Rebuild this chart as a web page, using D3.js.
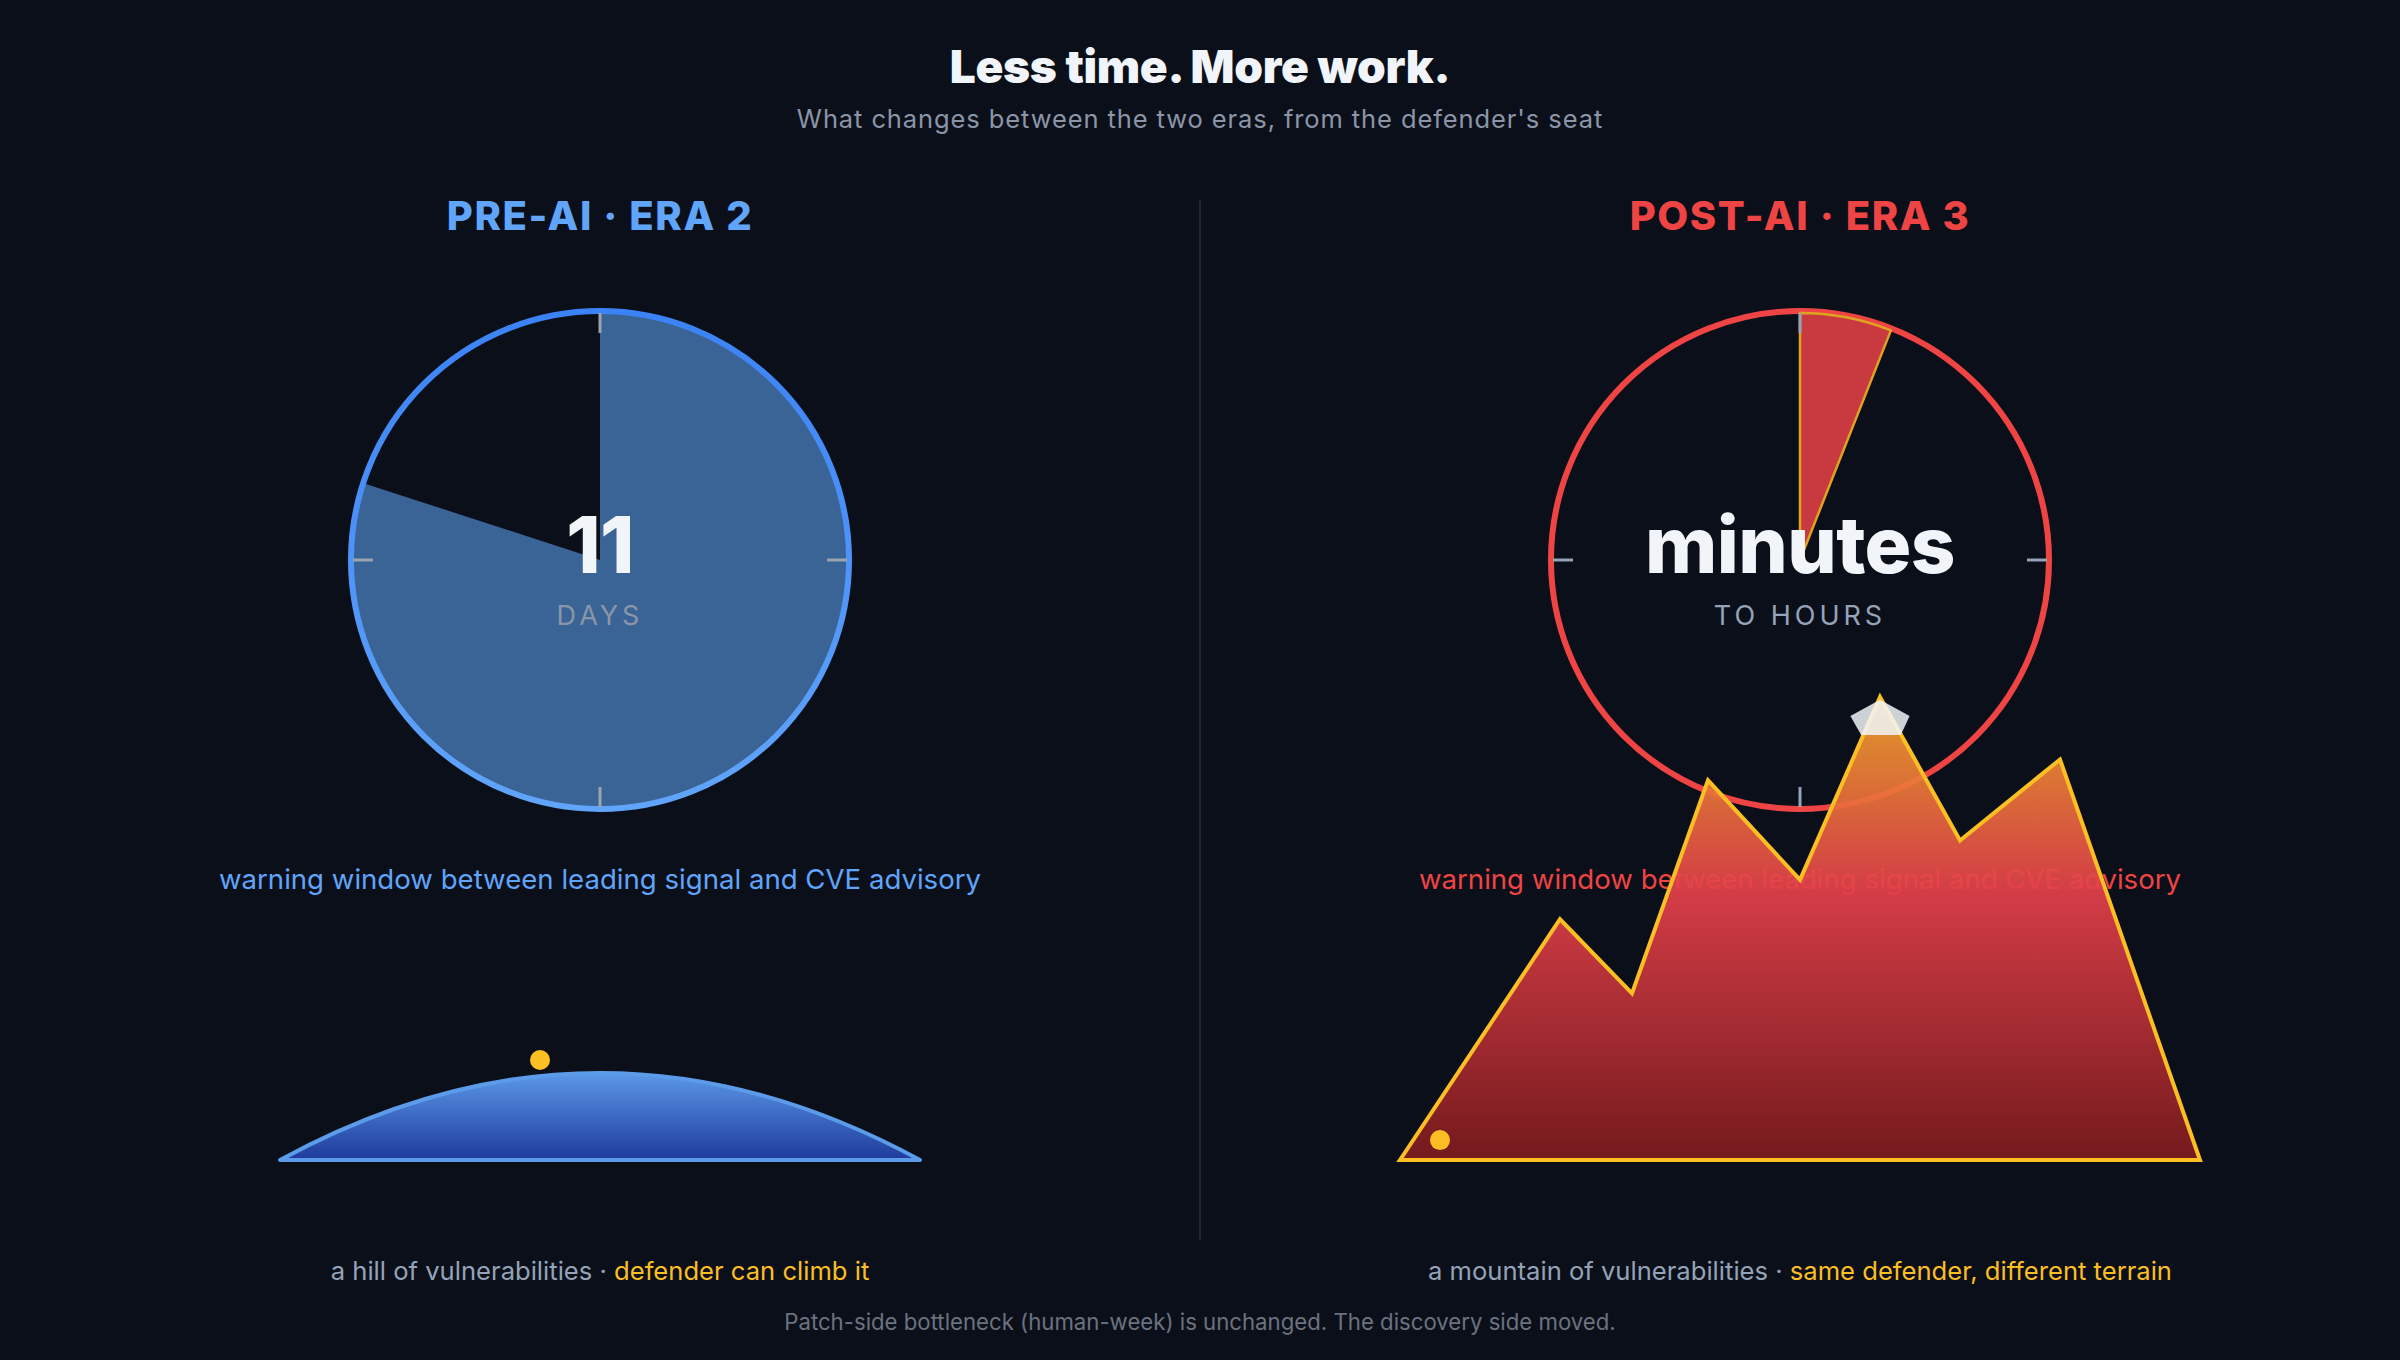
<!DOCTYPE html>
<html>
<head>
<meta charset="utf-8">
<script src="https://cdn.jsdelivr.net/npm/d3@7"></script>
<style>
  html, body { margin: 0; padding: 0; background: #0b0f19; }
  svg { display: block; font-family: Inter, "Noto Sans", sans-serif; }
</style>
</head>
<body>
<div id="chart"></div>
<script>
// two eras, left then right
const eras = ["PRE-AI · ERA 2", "POST-AI · ERA 3"];
const eraColors = ["#60a5fa", "#ef4444"];
const windowFraction = [0.8, 0.06];          // share of the clock face
const bigValue = ["11", "minutes"];
const unitLabel = ["DAYS", "TO HOURS"];
const windowLabel = "warning window between leading signal and CVE advisory";
const terrainLabel = ["a hill of vulnerabilities", "a mountain of vulnerabilities"];
const terrainNote = ["defender can climb it", "same defender, different terrain"];

// terrain profiles: [x, height]
const hillProfile = [[-80, 0], [0, 18.8], [80, 0]];
const mountainProfile = [[-100, 0], [-60, 52], [-42, 36], [-23, 82], [0, 60.5],
  [20, 100], [40, 69], [65, 86.5], [100, 0]];
const snowCap = [[12.6, 95.9], [20, 99.4], [27.4, 95.9], [25.2, 91.8], [15.3, 91.8]];
const climber = [[-15, 21.6], [-90, 4.3]];

const W = 2400, H = 1360;
const svg = d3.select("#chart").append("svg")
  .attr("width", W)
  .attr("height", H);

const defs = svg.append("defs");

const g1 = defs.append("linearGradient").attr("id", "hillFill")
  .attr("x1", 0).attr("y1", 0).attr("x2", 0).attr("y2", 1);
g1.append("stop").attr("offset", 0).attr("stop-color", "#5b98e8");
g1.append("stop").attr("offset", 1).attr("stop-color", "#1e3a9c");

const g2 = defs.append("linearGradient").attr("id", "mtnFill")
  .attr("x1", 0).attr("y1", 0).attr("x2", 0).attr("y2", 1);
g2.append("stop").attr("offset", 0).attr("stop-color", "#f0a52a");
g2.append("stop").attr("offset", 0.42).attr("stop-color", "#e3404a");
g2.append("stop").attr("offset", 1).attr("stop-color", "#7c1b1d");

const g3 = defs.append("linearGradient").attr("id", "blueRing")
  .attr("x1", 0).attr("y1", 0).attr("x2", 0).attr("y2", 1);
g3.append("stop").attr("offset", 0).attr("stop-color", "#3b82f6");
g3.append("stop").attr("offset", 1).attr("stop-color", "#60a5fa");

svg.append("rect").attr("width", W).attr("height", H).attr("fill", "#0b0f19");

// header
svg.append("text")
  .attr("x", W / 2).attr("y", 83)
  .attr("text-anchor", "middle")
  .attr("fill", "#f1f5f9")
  .attr("font-size", 46)
  .attr("font-weight", 900)
  .attr("letter-spacing", -0.3)
  .text("Less time. More work.");

svg.append("text")
  .attr("x", W / 2).attr("y", 128)
  .attr("text-anchor", "middle")
  .attr("fill", "#8b95a7")
  .attr("font-size", 25.5)
  .attr("letter-spacing", 0.9)
  .text("What changes between the two eras, from the defender's seat");

svg.append("line")
  .attr("x1", W / 2).attr("x2", W / 2)
  .attr("y1", 200).attr("y2", 1240)
  .attr("stroke", "#1e2636")
  .attr("stroke-width", 2);

// panels
const panelX = d3.scaleBand().domain([0, 1]).range([0, W]);
const R = 249;
const terrainY = d3.scaleLinear().domain([0, 100]).range([1160, 697]);

eras.forEach((era, i) => {
  const cx = panelX(i) + panelX.bandwidth() / 2;
  const cy = 560;
  const color = eraColors[i];
  const tx = d3.scaleLinear().domain([-100, 100]).range([cx - 400, cx + 400]);

  svg.append("text")
    .attr("x", cx).attr("y", 230)
    .attr("text-anchor", "middle")
    .attr("fill", color)
    .attr("font-size", 40)
    .attr("font-weight", 800)
    .attr("letter-spacing", 1.6)
    .text(era);

  const clock = svg.append("g").attr("transform", `translate(${cx},${cy})`);
  const angle = d3.scaleLinear().domain([0, 1]).range([0, 2 * Math.PI]);
  const arc = d3.arc().innerRadius(0).outerRadius(R - 2)
    .startAngle(0).endAngle(angle(windowFraction[i]));

  if (i === 0) {
    clock.append("path").attr("d", arc()).attr("fill", "#3a6396");
    clock.append("circle").attr("r", R).attr("fill", "none")
      .attr("stroke", "url(#blueRing)").attr("stroke-width", 6);
  } else {
    clock.append("circle").attr("r", R).attr("fill", "none")
      .attr("stroke", color).attr("stroke-width", 6);
    clock.append("path").attr("d", arc()).attr("fill", "#c93a40")
      .attr("stroke", "#e0a31f").attr("stroke-width", 2.5)
      .attr("stroke-linejoin", "round");
  }

  clock.selectAll(".tick")
    .data([0, 0.25, 0.5, 0.75])
    .enter().append("line")
    .attr("class", "tick")
    .attr("x1", d => Math.sin(angle(d)) * (R - 22))
    .attr("y1", d => -Math.cos(angle(d)) * (R - 22))
    .attr("x2", d => Math.sin(angle(d)) * (R - 2))
    .attr("y2", d => -Math.cos(angle(d)) * (R - 2))
    .attr("stroke", i === 0 ? "#9ca3af" : "#94a3b8")
    .attr("stroke-width", 3);

  clock.append("text")
    .attr("y", 13)
    .attr("text-anchor", "middle")
    .attr("fill", "#f1f5f9")
    .attr("font-size", 78)
    .attr("font-weight", 800)
    .attr("letter-spacing", -0.6)
    .text(bigValue[i]);

  clock.append("text")
    .attr("y", 65)
    .attr("text-anchor", "middle")
    .attr("fill", i === 0 ? "#8a96a8" : "#94a3b8")
    .attr("font-size", 27)
    .attr("letter-spacing", 4)
    .text(unitLabel[i]);

  svg.append("text")
    .attr("x", cx).attr("y", 889)
    .attr("text-anchor", "middle")
    .attr("fill", color)
    .attr("font-size", 27.6)
    .text(windowLabel);

  // terrain
  if (i === 0) {
    const p = d3.path();
    const [a, b, c] = hillProfile;
    p.moveTo(tx(a[0]), terrainY(a[1]));
    p.quadraticCurveTo(tx(b[0]), terrainY(2 * b[1]), tx(c[0]), terrainY(c[1]));
    p.closePath();
    svg.append("path").attr("d", p.toString())
      .attr("fill", "url(#hillFill)")
      .attr("stroke", "#5b9be9")
      .attr("stroke-width", 4)
      .attr("stroke-linejoin", "round");
  } else {
    const line = d3.line().x(d => tx(d[0])).y(d => terrainY(d[1]));
    svg.append("path").attr("d", line(mountainProfile) + "Z")
      .attr("fill", "url(#mtnFill)")
      .attr("fill-opacity", 0.93)
      .attr("stroke", "#fbbf24")
      .attr("stroke-width", 4)
      .attr("stroke-linejoin", "miter");
    svg.append("path").attr("d", line(snowCap) + "Z")
      .attr("fill", "#f1f5f9")
      .attr("fill-opacity", 0.85);
  }

  svg.append("circle")
    .attr("cx", tx(climber[i][0]))
    .attr("cy", terrainY(climber[i][1]))
    .attr("r", 10)
    .attr("fill", "#fbbf24");

  const cap = svg.append("text")
    .attr("x", cx).attr("y", 1280)
    .attr("text-anchor", "middle")
    .attr("font-size", 25.6);
  cap.append("tspan").attr("fill", "#94a3b8").text(terrainLabel[i] + " · ");
  cap.append("tspan").attr("fill", "#fbbf24").text(terrainNote[i]);
});

svg.append("text")
  .attr("x", W / 2).attr("y", 1330)
  .attr("text-anchor", "middle")
  .attr("fill", "#6b7280")
  .attr("font-size", 22.2)
  .text("Patch-side bottleneck (human-week) is unchanged. The discovery side moved.");
</script>
</body>
</html>
